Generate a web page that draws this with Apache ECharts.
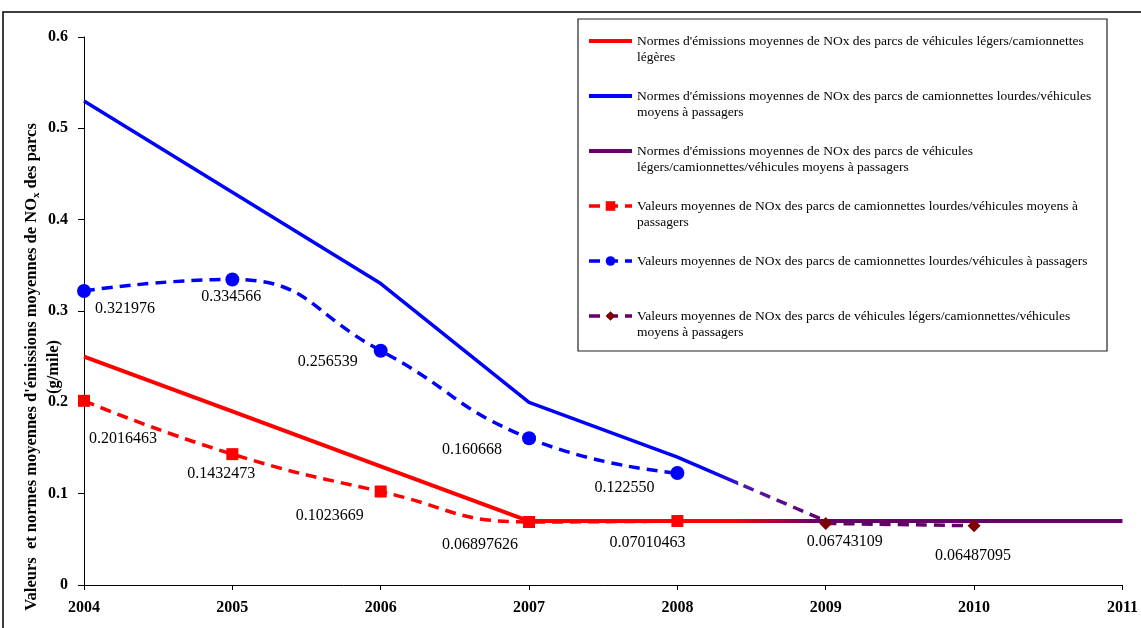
<!DOCTYPE html>
<html>
<head>
<meta charset="utf-8">
<script src="https://cdn.jsdelivr.net/npm/echarts@6/dist/echarts.min.js"></script>
<style>
html,body{margin:0;padding:0;background:#fff;}
#chart{width:1141px;height:628px;}
</style>
</head>
<body>
<div id="chart"></div>
<script>
// ---- data ----
const years = [2004, 2005, 2006, 2007, 2008, 2009, 2010, 2011];
const yTicks = [0, 0.1, 0.2, 0.3, 0.4, 0.5, 0.6];
// norms (solid lines)
const normLight = [0.25, 0.19, 0.13, 0.07, 0.07, 0.07];        // 2004-2009
const normHeavy = [0.53, 0.43, 0.33, 0.20, 0.14, 0.07];        // 2004-2009
const normCombined = [0.07, 0.07, 0.07];                        // 2009-2011
// measured values (dashed lines)
const valHeavyMid = [0.2016463, 0.1432473, 0.1023669, 0.06897626, 0.07010463]; // 2004-2008
const valHeavy = [0.321976, 0.334566, 0.256539, 0.160668, 0.122550];          // 2004-2008
const valCombined = [0.06743109, 0.06487095];                                 // 2009-2010

const names = [
  "Normes d'émissions moyennes de NOx des parcs de véhicules légers/camionnettes légères",
  "Normes d'émissions moyennes de NOx des parcs de camionnettes lourdes/véhicules moyens à passagers",
  "Normes d'émissions moyennes de NOx des parcs de véhicules légers/camionnettes/véhicules moyens à passagers",
  "Valeurs moyennes de NOx des parcs de camionnettes lourdes/véhicules moyens à passagers",
  "Valeurs moyennes de NOx des parcs de camionnettes lourdes/véhicules à passagers",
  "Valeurs moyennes de NOx des parcs de véhicules légers/camionnettes/véhicules moyens à passagers"
];
const legendLines = [
  ["Normes d'émissions moyennes de NOx des parcs de véhicules légers/camionnettes", "légères"],
  ["Normes d'émissions moyennes de NOx des parcs de camionnettes lourdes/véhicules", "moyens à passagers"],
  ["Normes d'émissions moyennes de NOx des parcs de véhicules", "légers/camionnettes/véhicules moyens à passagers"],
  ["Valeurs moyennes de NOx des parcs de camionnettes lourdes/véhicules moyens à", "passagers"],
  ["Valeurs moyennes de NOx des parcs de camionnettes lourdes/véhicules à passagers", " "],
  ["Valeurs moyennes de NOx des parcs de véhicules légers/camionnettes/véhicules", "moyens à passagers"]
];

// ---- style (label nudges, px) ----
const nudgeHeavyMid = [[39, 38], [-11, 20], [-51, 24], [-49, 23], [-30, 22]];
const nudgeHeavy = [[41, 18], [-1, 17], [-53, 11], [-57, 12], [-53, 15]];
const nudgeCombined = [[19, 18], [-1, 30]];

const RED = '#FF0000', BLUE = '#0000FF', PURPLE = '#660066', DIAMOND = '#7F0000';
const SERIF = 'Liberation Serif';

function pairs(vals, startIdx) { return vals.map((v, i) => [years[startIdx + i], v]); }
function labelled(vals, startIdx, nudges) {
  return vals.map((v, i) => ({ value: [years[startIdx + i], v], label: { offset: nudges[i] } }));
}
function hGrad(stops) {
  return { type: 'linear', x: 0, y: 0, x2: 1, y2: 0, colorStops: stops.map(s => ({ offset: s[0], color: s[1] })) };
}
const dataLabel = (prec) => ({
  show: true, position: 'inside', color: '#000', fontFamily: SERIF, fontSize: 16,
  formatter: p => p.value[1].toPrecision(prec)
});

const chart = echarts.init(document.getElementById('chart'));
const option = {
  animation: false,
  backgroundColor: '#fff',
  grid: { left: 84, right: 16, top: 37, bottom: 43 },
  xAxis: {
    type: 'value', min: years[0], max: years[years.length - 1], interval: 1,
    axisLine: { lineStyle: { color: '#000', width: 1 } },
    axisTick: { length: 5, lineStyle: { color: '#000' } },
    splitLine: { show: false },
    axisLabel: { color: '#000', fontFamily: SERIF, fontWeight: 'bold', fontSize: 16, margin: 15, formatter: v => String(v) }
  },
  yAxis: {
    type: 'value', min: yTicks[0], max: yTicks[yTicks.length - 1], interval: 0.1,
    axisLine: { show: true, lineStyle: { color: '#000', width: 1 } },
    axisTick: { show: true, length: 6, lineStyle: { color: '#000' } },
    splitLine: { show: false },
    axisLabel: { color: '#000', fontFamily: SERIF, fontWeight: 'bold', fontSize: 16, margin: 16,
      formatter: v => { const t = yTicks.find(x => Math.abs(x - v) < 1e-9); return t === 0 ? '0' : t.toFixed(1); } }
  },
  legend: {
    orient: 'vertical', left: 587, top: 17, padding: 0, itemGap: 7,
    itemWidth: 43, itemHeight: 12,
    textStyle: {
      fontFamily: SERIF, fontSize: 13.5, color: '#000', lineHeight: 16, padding: [16, 0, 0, 0],
      rich: { t: { fontFamily: SERIF, fontSize: 13.5, color: '#000', lineHeight: 16 } }
    },
    formatter: name => legendLines[names.indexOf(name)].map(s => '{t|' + s + '}').join('\n'),
    data: [
      { name: names[0], lineStyle: { color: RED, width: 4 }, itemStyle: { opacity: 0 } },
      { name: names[1], lineStyle: { color: BLUE, width: 4 }, itemStyle: { opacity: 0 } },
      { name: names[2], lineStyle: { color: PURPLE, width: 4 }, itemStyle: { opacity: 0 } },
      { name: names[3], lineStyle: { width: 3.5 } },
      { name: names[4], lineStyle: { width: 3.5 } },
      { name: names[5], lineStyle: { width: 3.5 } }
    ]
  },
  graphic: [
    { type: 'rect', shape: { x: 3, y: 12, width: 1170, height: 650 }, style: { fill: 'none', stroke: '#000', lineWidth: 1.5 }, silent: true },
    { type: 'rect', shape: { x: 578, y: 19, width: 529, height: 332 }, style: { fill: 'none', stroke: '#222', lineWidth: 1.2 }, silent: true },
    {
      type: 'text', x: 43, y: 367, rotation: Math.PI / 2, silent: true,
      style: {
        text: "{b|Valeurs  et normes moyennes d'émissions moyennes de NO}{s|x}{b| des parcs}\n{b|(g/mile)}",
        align: 'center', verticalAlign: 'middle',
        rich: {
          b: { fontFamily: SERIF, fontWeight: 'bold', fontSize: 16.5, lineHeight: 22, fill: '#000' },
          s: { fontFamily: SERIF, fontWeight: 'bold', fontSize: 11, lineHeight: 22, padding: [8, 0, 0, 0], fill: '#000' }
        }
      }
    }
  ],
  series: [
    { // norm light (red) fading into purple
      name: names[0], type: 'line', data: pairs(normLight, 0), showSymbol: false, symbol: 'none',
      itemStyle: { color: RED },
      lineStyle: { width: 4, color: hGrad([[0, RED], [0.87, RED], [0.98, PURPLE], [1, PURPLE]]) }, z: 2
    },
    { // norm heavy (blue) ending ~2008.4
      name: names[1], type: 'line', data: pairs(normHeavy, 0), showSymbol: false, symbol: 'none',
      itemStyle: { color: BLUE },
      lineStyle: { width: 3.5, color: hGrad([[0, BLUE], [0.84, BLUE], [0.879, '#3a10c8'], [0.88, 'rgba(0,0,255,0)'], [1, 'rgba(0,0,255,0)']]) }, z: 2
    },
    { // dashed purple transition of heavy norm, 2008 -> 2009
      name: 'transition', type: 'line', data: pairs(normHeavy.slice(4), 4), showSymbol: false, symbol: 'none',
      lineStyle: { width: 3.5, type: [11, 7], color: hGrad([[0, 'rgba(0,0,0,0)'], [0.399, 'rgba(0,0,0,0)'], [0.4, '#4a1ab8'], [1, PURPLE]]) }, z: 2
    },
    {
      name: names[2], type: 'line', data: pairs(normCombined, 5), showSymbol: false, symbol: 'none',
      itemStyle: { color: PURPLE }, lineStyle: { width: 4, color: PURPLE }, z: 2
    },
    {
      name: names[3], type: 'line', smooth: true, data: labelled(valHeavyMid, 0, nudgeHeavyMid),
      symbol: 'rect', symbolSize: 12, itemStyle: { color: RED },
      lineStyle: { width: 3.5, type: [11, 7], color: RED }, label: dataLabel(7), z: 3
    },
    {
      name: names[4], type: 'line', smooth: true, data: labelled(valHeavy, 0, nudgeHeavy),
      symbol: 'circle', symbolSize: 14, itemStyle: { color: BLUE },
      lineStyle: { width: 3.5, type: [11, 7], color: BLUE }, label: dataLabel(6), z: 3
    },
    {
      name: names[5], type: 'line', smooth: true, data: labelled(valCombined, 5, nudgeCombined),
      symbol: 'diamond', symbolSize: 13, itemStyle: { color: DIAMOND },
      lineStyle: { width: 3.5, type: [11, 7], color: PURPLE }, label: dataLabel(7), z: 3
    }
  ]
};
chart.setOption(option);
</script>
</body>
</html>
